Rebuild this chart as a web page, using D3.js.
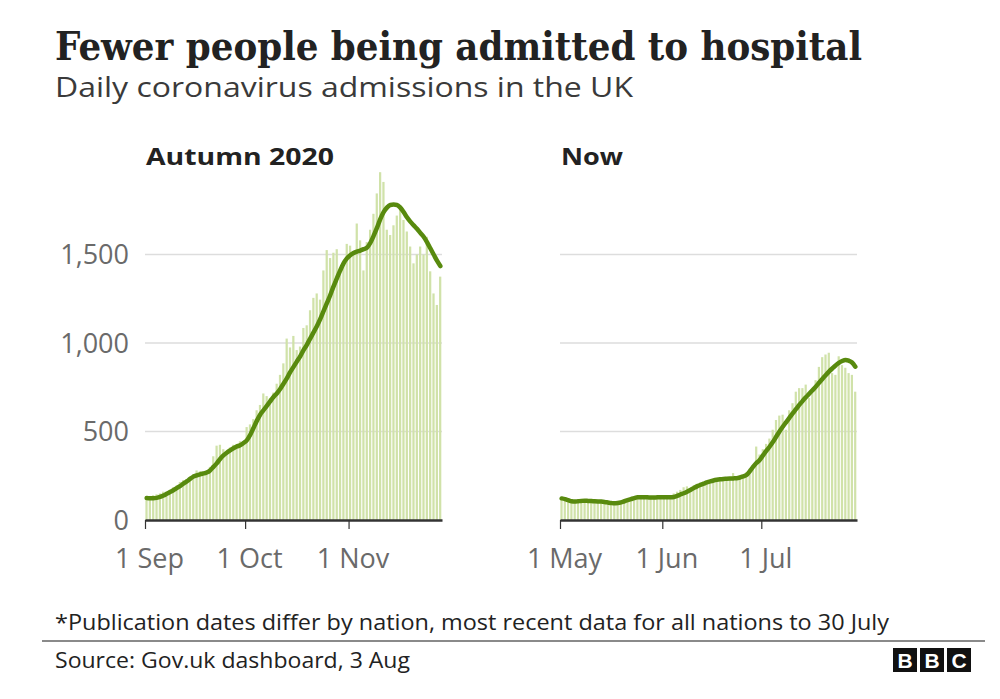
<!DOCTYPE html>
<html>
<head>
<meta charset="utf-8">
<script src="https://cdn.jsdelivr.net/npm/d3@7"></script>
<style>
  html, body { margin: 0; padding: 0; background: #fff; }
  svg { display: block; }
</style>
</head>
<body>
<svg id="chart" width="1000" height="699"></svg>
<script>
// ---------- DATA ----------
const panelTitles = ["Autumn 2020", "Now"];
const panelStarts = ["2020-09-01", "2021-05-01"];
const autumnTickLabels = ["1 Sep", "1 Oct", "1 Nov"];
const autumnTickDates = ["2020-09-01", "2020-10-01", "2020-11-01"];
const nowTickLabels = ["1 May", "1 Jun", "1 Jul"];
const nowTickDates = ["2021-05-01", "2021-06-01", "2021-07-01"];
const yTicks = [0, 500, 1000, 1500];

// Daily admissions, 1 Sep - 28 Nov 2020
const autumnAdmissions = [
  135,130,140,145,150,160,150,170,185,195,
  215,225,230,245,260,280,275,270,280,300,
  360,420,425,400,380,410,425,430,445,440,
  525,540,570,620,650,715,700,690,720,770,
  820,885,1025,975,1040,960,980,1085,1100,1185,
  1255,1280,1245,1410,1525,1480,1510,1530,1410,1450,
  1560,1550,1520,1675,1580,1410,1570,1640,1730,1845,
  1965,1910,1640,1610,1665,1720,1760,1695,1630,1545,
  1450,1500,1545,1500,1600,1405,1280,1215,1375
];
// 7-day average line, 1 Sep - 28 Nov 2020
const autumnAverage = [
  124,123,123,125,130,138,148,158,168,180,
  192,205,218,232,245,252,258,263,268,280,
  300,320,345,365,380,393,405,415,422,435,
  450,480,520,560,595,620,645,670,695,715,
  740,770,800,835,865,895,925,960,990,1025,
  1060,1095,1135,1180,1225,1270,1320,1365,1410,1450,
  1478,1496,1508,1516,1522,1530,1538,1565,1605,1650,
  1700,1740,1765,1780,1782,1780,1765,1740,1710,1686,
  1665,1645,1622,1600,1570,1535,1500,1465,1435
];
// Daily admissions, 1 May - 29 Jul 2021
const nowAdmissions = [
  120,115,110,100,105,110,112,105,108,110,
  100,105,100,95,90,92,95,100,110,115,
  120,125,130,128,125,130,128,125,130,135,
  125,128,135,140,150,160,170,185,190,180,
  195,205,210,205,215,225,230,220,235,240,
  230,235,265,240,245,250,270,290,310,415,
  370,400,430,460,510,565,590,595,510,620,
  660,725,745,745,765,690,730,790,865,920,
  935,945,830,820,925,875,860,830,820,725
];
// 7-day average line, 1 May - 29 Jul 2021
const nowAverage = [
  122,118,112,106,104,106,108,109,108,107,
  106,105,104,102,99,96,94,96,100,106,
  112,118,124,128,128,128,128,127,127,128,
  128,128,128,128,130,136,144,151,160,170,
  180,190,198,205,212,218,223,227,230,232,
  233,234,235,236,240,246,254,275,300,322,
  339,365,390,414,440,470,500,527,552,577,
  602,626,650,672,693,713,733,753,775,797,
  818,838,856,873,888,898,904,900,890,866
];

// ---------- LAYOUT ----------
const svg = d3.select("#chart");
const parse = d3.utcParse("%Y-%m-%d");
const DAY = 24 * 3600 * 1000;
const baseY = 520;
const y = d3.scaleLinear().domain([0, 1500]).range([baseY, 254.5]);

const sansFont = "'Open Sans', 'Noto Sans', sans-serif";
const serifFont = "'DejaVu Serif', serif";

function fitText(sel, width) {
  const node = sel.node();
  const w = node.getComputedTextLength();
  if (Math.abs(w - width) > 1) {
    sel.attr("textLength", width).attr("lengthAdjust", "spacingAndGlyphs");
  }
  return sel;
}

// Titles
fitText(svg.append("text").attr("x", 55).attr("y", 60)
  .attr("font-family", serifFont).attr("font-size", 40).attr("font-weight", 700)
  .attr("fill", "#222").text("Fewer people being admitted to hospital"), 807);
fitText(svg.append("text").attr("x", 55).attr("y", 97)
  .attr("font-family", sansFont).attr("font-size", 28)
  .attr("fill", "#3a3a3a").text("Daily coronavirus admissions in the UK"), 578);

const panels = [
  { title: panelTitles[0], start: panelStarts[0], values: autumnAdmissions, avg: autumnAverage,
    tickDates: autumnTickDates, tickLabels: autumnTickLabels, x0: 145, x1: 442, titleW: 188, showY: true },
  { title: panelTitles[1], start: panelStarts[1], values: nowAdmissions, avg: nowAverage,
    tickDates: nowTickDates, tickLabels: nowTickLabels, x0: 560, x1: 857, titleW: 62, showY: false }
];

panels.forEach(p => {
  const start = parse(p.start);
  const n = p.values.length;
  const end = new Date(+start + n * DAY);
  const x = d3.scaleUtc().domain([start, end]).range([p.x0, p.x1]);
  const step = (p.x1 - p.x0) / n;
  const g = svg.append("g");

  // panel title
  fitText(g.append("text").attr("x", p.x0 + 1).attr("y", 165)
    .attr("font-family", sansFont).attr("font-size", 23).attr("font-weight", 700)
    .attr("fill", "#222").text(p.title), p.titleW);

  // gridlines
  g.selectAll("line.grid").data(yTicks.filter(d => d > 0)).join("line")
    .attr("class", "grid")
    .attr("x1", p.x0).attr("x2", p.x1)
    .attr("y1", d => y(d)).attr("y2", d => y(d))
    .attr("stroke", "#dddddd").attr("stroke-width", 1.5);

  // y labels
  if (p.showY) {
    const yAxis = d3.axisLeft(y).tickValues(yTicks).tickFormat(d3.format(",")).tickSize(0).tickPadding(0);
    const ya = g.append("g").attr("transform", `translate(129,0)`).call(yAxis);
    ya.select(".domain").remove();
    ya.selectAll("text").attr("font-family", sansFont).attr("font-size", 27)
      .attr("fill", "#6a6a6a").attr("dy", "0.35em");
  }

  // bars
  const dates = p.values.map((v, i) => new Date(+start + i * DAY));
  g.selectAll("rect.bar").data(p.values).join("rect")
    .attr("class", "bar")
    .attr("x", (d, i) => x(dates[i]) + 0.4)
    .attr("width", step - 1.1)
    .attr("y", d => y(d))
    .attr("height", d => baseY - y(d))
    .attr("fill", "#d0e2a9");

  // average line
  const line = d3.line()
    .x((d, i) => x(dates[i]) + step / 2)
    .y(d => y(d))
    .curve(d3.curveMonotoneX);
  g.append("path").datum(p.avg)
    .attr("d", line)
    .attr("fill", "none")
    .attr("stroke", "#588a0e")
    .attr("stroke-width", 4.5)
    .attr("stroke-linejoin", "round")
    .attr("stroke-linecap", "round");

  // x axis
  const xAxis = d3.axisBottom(x)
    .tickValues(p.tickDates.map(parse))
    .tickFormat((d, i) => p.tickLabels[i])
    .tickSize(9).tickSizeOuter(0).tickPadding(20);
  const xa = g.append("g").attr("transform", `translate(0,${baseY})`).call(xAxis);
  xa.select(".domain").attr("stroke", "#333").attr("stroke-width", 2.5);
  xa.selectAll(".tick line").attr("stroke", "#333").attr("stroke-width", 1.2);
  xa.selectAll(".tick text").attr("font-family", sansFont).attr("font-size", 27)
    .attr("fill", "#6a6a6a").attr("dx", "4");
});

// Footnote and source
fitText(svg.append("text").attr("x", 55).attr("y", 630)
  .attr("font-family", sansFont).attr("font-size", 21).attr("fill", "#222")
  .text("*Publication dates differ by nation, most recent data for all nations to 30 July"), 834);
svg.append("line").attr("x1", 42).attr("x2", 985).attr("y1", 641).attr("y2", 641)
  .attr("stroke", "#8a8a8a").attr("stroke-width", 2);
fitText(svg.append("text").attr("x", 55).attr("y", 668)
  .attr("font-family", sansFont).attr("font-size", 21).attr("fill", "#222")
  .text("Source: Gov.uk dashboard, 3 Aug"), 355);

// BBC logo
const logoLetters = ["B", "B", "C"];
const logo = svg.append("g").attr("transform", "translate(893,648)");
logoLetters.forEach((l, i) => {
  logo.append("rect").attr("x", i * 27).attr("y", 0).attr("width", 24).attr("height", 24).attr("fill", "#111");
  logo.append("text").attr("x", i * 27 + 12).attr("y", 20).attr("text-anchor", "middle")
    .attr("font-family", "'Liberation Sans', Arial, sans-serif").attr("font-weight", 700)
    .attr("font-size", 21).attr("fill", "#fff").text(l);
});
</script>
</body>
</html>
